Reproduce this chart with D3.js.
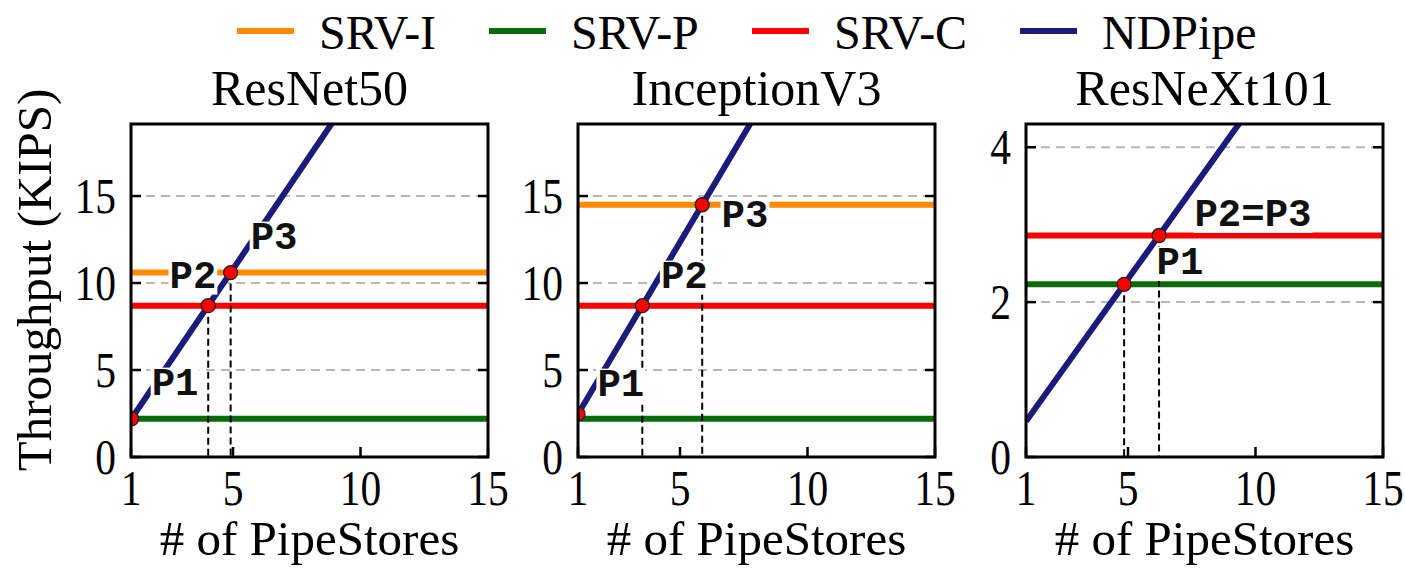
<!DOCTYPE html>
<html>
<head>
<meta charset="utf-8">
<script src="https://cdn.jsdelivr.net/npm/d3@7"></script>
<style>
  html, body { margin: 0; padding: 0; background: #fff; }
  svg { display: block; }
</style>
</head>
<body>
<svg id="chart" width="1405" height="569"></svg>
<script>
// Models shown in the three panels
const models = ["ResNet50", "InceptionV3", "ResNeXt101"];

// Flat throughput (KIPS) of each baseline server configuration
const srvI = [10.6, 14.5, null];
const srvP = [2.2, 2.2, 2.23];
const srvC = [8.7, 8.7, 2.86];

// NDPipe throughput added by each PipeStore (KIPS per store)
const ndpipePerStore = [2.16, 2.47, 0.46];

// Axis extents and ticks
const xDomain = [1, 15];
const xTicks = [1, 5, 10, 15];
const yMax = [19.14, 19.14, 4.30];
const yTicks = [[0, 5, 10, 15], [0, 5, 10, 15], [0, 2, 4]];

// Crossing-point annotations: which baseline each point crosses, and where its text sits
const pointSeries = [["P", "C", "I"], ["P", "C", "I"], ["P", "C"]];
const pointLabels = [
  [{ t: "P1", x: 2.73, y: 4.37 }, { t: "P2", x: 3.43, y: 10.52 }, { t: "P3", x: 6.61, y: 12.76 }],
  [{ t: "P1", x: 2.68, y: 4.31 }, { t: "P2", x: 5.17, y: 10.52 }, { t: "P3", x: 7.55, y: 14.02 }],
  [{ t: "P2=P3", x: 9.9, y: 3.16 }, { t: "P1", x: 7.04, y: 2.54 }]
];

const legendNames = ["SRV-I", "SRV-P", "SRV-C", "NDPipe"];
const colors = { I: "#ff8c00", P: "#0a6b0a", C: "#ff0000", N: "#1b1b7c" };
const legendColors = [colors.I, colors.P, colors.C, colors.N];

const serif = "'Liberation Serif', 'Times New Roman', serif";
const mono = "'Courier New', 'Liberation Mono', monospace";

const svg = d3.select("#chart");

// Layout
const panelLeft = [131, 578, 1026];
const panelW = 357, panelTop = 124, panelH = 333;
const tickFont = 50, tickSqueeze = 0.83;

// Legend
const legendX = [237, 489, 752, 1020];
const legend = svg.append("g");
legendNames.forEach((name, i) => {
  legend.append("line")
    .attr("x1", legendX[i]).attr("x2", legendX[i] + 57)
    .attr("y1", 31).attr("y2", 31)
    .attr("stroke", legendColors[i]).attr("stroke-width", 6);
  legend.append("text")
    .attr("x", legendX[i] + 82).attr("y", 49)
    .attr("font-family", serif).attr("font-size", 48)
    .text(name);
});

// Y axis title
svg.append("text")
  .attr("transform", `translate(51, 280) rotate(-90)`)
  .attr("text-anchor", "middle")
  .attr("font-family", serif).attr("font-size", 49)
  .text("Throughput (KIPS)");

models.forEach((model, p) => {
  const x = d3.scaleLinear().domain(xDomain).range([panelLeft[p], panelLeft[p] + panelW]);
  const y = d3.scaleLinear().domain([0, yMax[p]]).range([panelTop + panelH, panelTop]);
  const g = svg.append("g");

  const clipId = "clip" + p;
  svg.append("clipPath").attr("id", clipId)
    .append("rect")
    .attr("x", panelLeft[p]).attr("y", panelTop)
    .attr("width", panelW).attr("height", panelH);

  // Dashed grid at the y ticks
  g.append("g").selectAll("line")
    .data(yTicks[p].filter(v => v > 0))
    .join("line")
    .attr("x1", x(xDomain[0])).attr("x2", x(xDomain[1]))
    .attr("y1", d => y(d)).attr("y2", d => y(d))
    .attr("stroke", "#b8b8b8").attr("stroke-width", 2)
    .attr("stroke-dasharray", "9,6");

  const plot = g.append("g").attr("clip-path", `url(#${clipId})`);

  // Baseline server throughput levels
  const levels = { I: srvI[p], P: srvP[p], C: srvC[p] };
  ["P", "C", "I"].forEach(key => {
    const v = levels[key];
    if (v == null) return;
    plot.append("line")
      .attr("x1", x(xDomain[0])).attr("x2", x(xDomain[1]))
      .attr("y1", y(v)).attr("y2", y(v))
      .attr("stroke", colors[key]).attr("stroke-width", 6);
  });

  // Crossing points of NDPipe with each baseline
  const k = ndpipePerStore[p];
  const pts = pointSeries[p].map(key => {
    const px = Math.max(xDomain[0], levels[key] / k);
    return { x: px, y: k * px };
  });

  // Drop lines from crossing points to the x axis
  plot.append("g").selectAll("line")
    .data(pts.filter(d => d.x > xDomain[0] + 0.05))
    .join("line")
    .attr("x1", d => x(d.x)).attr("x2", d => x(d.x))
    .attr("y1", d => y(d.y)).attr("y2", y(0))
    .attr("stroke", "#000").attr("stroke-width", 2)
    .attr("stroke-dasharray", "7,4");

  // NDPipe linear scaling
  const nd = d3.line().x(d => x(d)).y(d => y(k * d));
  plot.append("path")
    .datum(xDomain)
    .attr("d", nd)
    .attr("fill", "none")
    .attr("stroke", colors.N).attr("stroke-width", 6);

  // Point labels on a white box
  pointLabels[p].forEach(l => {
    const lg = plot.append("g");
    const txt = lg.append("text")
      .attr("x", x(l.x)).attr("y", y(l.y))
      .attr("dy", "0.35em")
      .attr("text-anchor", "middle")
      .attr("font-family", mono).attr("font-weight", "bold").attr("font-size", 39)
      .attr("fill", "#111")
      .text(l.t);
    const bb = txt.node().getBBox();
    lg.insert("rect", "text")
      .attr("x", bb.x - 1).attr("y", bb.y + 5)
      .attr("width", bb.width + 2).attr("height", bb.height - 10)
      .attr("fill", "#fff");
  });

  // Points
  plot.append("g").selectAll("circle")
    .data(pts)
    .join("circle")
    .attr("cx", d => x(d.x)).attr("cy", d => y(d.y))
    .attr("r", 7)
    .attr("fill", "#ff0000").attr("stroke", "#222").attr("stroke-width", 1.3);

  // Inward ticks on left, right and bottom
  const tickLen = 10;
  const tk = g.append("g").attr("stroke", "#000").attr("stroke-width", 2.5);
  yTicks[p].forEach(v => {
    tk.append("line").attr("x1", x(xDomain[0])).attr("x2", x(xDomain[0]) + tickLen)
      .attr("y1", y(v)).attr("y2", y(v));
    tk.append("line").attr("x1", x(xDomain[1])).attr("x2", x(xDomain[1]) - tickLen)
      .attr("y1", y(v)).attr("y2", y(v));
  });
  xTicks.forEach(v => {
    tk.append("line").attr("x1", x(v)).attr("x2", x(v))
      .attr("y1", y(0)).attr("y2", y(0) - tickLen);
  });

  // Frame
  g.append("rect")
    .attr("x", panelLeft[p]).attr("y", panelTop)
    .attr("width", panelW).attr("height", panelH)
    .attr("fill", "none").attr("stroke", "#000").attr("stroke-width", 3);

  // Tick labels (narrow digits)
  g.append("g").selectAll("text")
    .data(yTicks[p])
    .join("text")
    .attr("transform", d => `translate(${x(xDomain[0]) - 15},${y(d)}) scale(${tickSqueeze},1)`)
    .attr("dy", "0.34em")
    .attr("text-anchor", "end")
    .attr("font-family", serif).attr("font-size", tickFont)
    .text(d => d);
  g.append("g").selectAll("text")
    .data(xTicks)
    .join("text")
    .attr("transform", d => `translate(${x(d)},${y(0) + 48}) scale(${tickSqueeze},1)`)
    .attr("text-anchor", "middle")
    .attr("font-family", serif).attr("font-size", tickFont)
    .text(d => d);

  // Axis title and panel title
  g.append("text")
    .attr("x", panelLeft[p] + panelW / 2).attr("y", 555)
    .attr("text-anchor", "middle")
    .attr("font-family", serif).attr("font-size", 49)
    .text("# of PipeStores");
  g.append("text")
    .attr("x", panelLeft[p] + panelW / 2).attr("y", 105)
    .attr("text-anchor", "middle")
    .attr("font-family", serif).attr("font-size", 50)
    .text(model);
});
</script>
</body>
</html>
